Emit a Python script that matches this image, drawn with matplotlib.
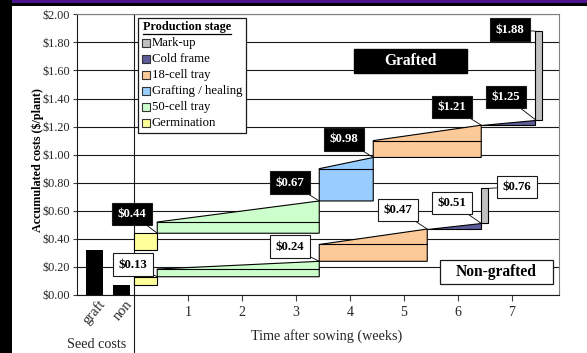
import matplotlib
matplotlib.use("Agg")
import matplotlib.pyplot as plt
from matplotlib.patches import Rectangle, Polygon
import numpy as np

plt.rcParams['font.family'] = ['Liberation Serif', 'DejaVu Serif']

# ---------------- data ----------------
seed_categories = ["graft", "non"]
seed_costs = [0.32, 0.07]

legend_stages = ["Mark-up", "Cold frame", "18-cell tray", "Grafting / healing",
                 "50-cell tray", "Germination"]
stage_colors = {"Mark-up": "#c0c0c0", "Cold frame": "#5c5c9a",
                "18-cell tray": "#fcc999", "Grafting / healing": "#99ccff",
                "50-cell tray": "#ccffcc", "Germination": "#ffff99"}

grafted_stages = ["Germination", "50-cell tray", "Grafting / healing",
                  "18-cell tray", "Cold frame", "Mark-up"]
grafted_start = [0.0, 0.43, 3.43, 4.43, 6.43, 7.43]
grafted_end = [0.43, 3.43, 4.43, 6.43, 7.43, 7.56]
grafted_fixed = [0.44, 0.52, 0.90, 1.10, 1.21, 1.88]
grafted_total = [0.44, 0.67, 0.98, 1.21, 1.25, 1.88]

non_stages = ["Germination", "50-cell tray", "18-cell tray", "Cold frame", "Mark-up"]
non_start = [0.0, 0.43, 3.43, 5.43, 6.43]
non_end = [0.43, 3.43, 5.43, 6.43, 6.56]
non_fixed = [0.13, 0.185, 0.36, 0.47, 0.76]
non_total = [0.13, 0.24, 0.47, 0.51, 0.76]

weeks = [1, 2, 3, 4, 5, 6, 7]
y_ticks = [0.0, 0.2, 0.4, 0.6, 0.8, 1.0, 1.2, 1.4, 1.6, 1.8, 2.0]

# label box centres (layout)
grafted_label_xy = [(-0.04, 0.577), (2.89, 0.80), (3.89, 1.11), (5.89, 1.34),
                    (6.89, 1.41), (6.96, 1.89)]
non_label_xy = [(-0.02, 0.217), (2.89, 0.345), (4.89, 0.606), (5.89, 0.656),
                (7.09, 0.77)]
seed_x = [-0.731, -0.231]

W, H = 587, 353
fig = plt.figure(figsize=(W / 100, H / 100), dpi=100)
ax = fig.add_axes([77 / W, (H - 295) / H, (559 - 77) / W, (295 - 14.3) / H])
ax.set_xlim(-1.056, 7.870)
ax.set_ylim(0, 2.0)

ax.set_axisbelow(True)
ax.yaxis.grid(True, color='#1a1a1a', lw=0.8)
ax.xaxis.grid(False)

for s in ['left', 'bottom']:
    ax.spines[s].set_color('#1a1a1a')
    ax.spines[s].set_linewidth(0.8)
for s in ['right', 'top']:
    ax.spines[s].set_color('#808080')
    ax.spines[s].set_linewidth(0.8)

ax.set_yticks(y_ticks)
ax.set_yticklabels([f"${v:.2f}" for v in y_ticks])
ax.set_xticks(weeks)
ax.set_xticklabels([str(w) for w in weeks])
ax.tick_params(axis='y', length=3, pad=2, labelsize=8.8, color='#404040',
               labelcolor='#262626', width=0.8)
ax.tick_params(axis='x', length=4, pad=4, labelsize=10, color='#404040',
               labelcolor='#262626', width=0.8)

# seed cost bars
ax.bar(seed_x, seed_costs, width=0.315, color='black', zorder=3)
for x, c in zip(seed_x, seed_categories):
    ax.text(x + 0.15, -0.05, c, rotation=50, rotation_mode='anchor',
            ha='right', va='center', fontsize=10.5, color='#262626', clip_on=False)

# week 0 divider
ax.plot([0, 0], [2.0, -0.43], color='#1a1a1a', lw=0.8, clip_on=False, zorder=2)


def draw_series(stages, start, end, fixed, total, seed):
    base = [seed] + total[:-1]
    for st, s, e, b, f, t in zip(stages, start, end, base, fixed, total):
        poly = Polygon([(s, b), (e, b), (e, t), (s, f)], closed=True,
                       fc=stage_colors[st], ec='black', lw=0.8, zorder=3)
        ax.add_patch(poly)
        if b < f < t:
            ax.plot([s, e], [f, f], color='black', lw=0.8, zorder=4)


draw_series(grafted_stages, grafted_start, grafted_end, grafted_fixed,
            grafted_total, seed_costs[0])
draw_series(non_stages, non_start, non_end, non_fixed, non_total, seed_costs[1])


def label_series(stages, start, end, total, label_xy, dark):
    for st, s, e, t, (lx, ly) in zip(stages, start, end, total, label_xy):
        px = e
        if st == "Mark-up" and lx < s:
            px = s
        fc, tc = ('black', 'white') if dark else ('white', 'black')
        ax.annotate(f"${t:.2f}", xy=(px, t), xytext=(lx, ly),
                    ha='center', va='center', fontsize=9.2, fontweight='bold',
                    color=tc, zorder=6,
                    bbox=dict(boxstyle='square,pad=0.42', fc=fc, ec='#1a1a1a', lw=0.8),
                    arrowprops=dict(arrowstyle='-', color='black', lw=0.6,
                                    shrinkA=0, shrinkB=0))


label_series(grafted_stages, grafted_start, grafted_end, grafted_total,
             grafted_label_xy, True)
label_series(non_stages, non_start, non_end, non_total, non_label_xy, False)

# series title boxes
ax.add_patch(Rectangle((4.074, 1.582), 2.093, 0.171, fc='black', ec='black',
                       zorder=6))
ax.text(5.12, 1.667, "Grafted", ha='center', va='center', fontsize=11.2,
        fontweight='bold', color='white', zorder=7)
ax.add_patch(Rectangle((5.667, 0.078), 2.092, 0.171, fc='white', ec='#1a1a1a',
                       lw=0.9, zorder=6))
ax.text(6.71, 0.163, "Non-grafted", ha='center', va='center', fontsize=11.2,
        fontweight='bold', color='black', zorder=7)

# axis titles
ax.text(-0.694, -0.356, "Seed costs", ha='center', va='center', fontsize=10.2,
        color='#262626', clip_on=False)
ax.text(3.565, -0.292, "Time after sowing (weeks)", ha='center', va='center',
        fontsize=10.2, color='#262626', clip_on=False)
fig.text(38 / W, 1 - 160 / H, "Accumulated costs ($/plant)", rotation=90,
         ha='center', va='center', fontsize=8.7, fontweight='bold')

# overlay in pixel coordinates: legend & frame
ov = fig.add_axes([0, 0, 1, 1])
ov.set_xlim(0, W)
ov.set_ylim(H, 0)
ov.axis('off')
ov.add_patch(Rectangle((138, 18), 108, 115, fc='white', ec='#1a1a1a', lw=0.9))
ov.text(143, 27, "Production stage", ha='left', va='center', fontsize=8.8,
        fontweight='bold')
ov.plot([143, 231], [33.5, 33.5], color='black', lw=0.9)
for i, st in enumerate(legend_stages):
    cy = 43 + i * 16
    ov.add_patch(Rectangle((142, cy - 4), 8, 8, fc=stage_colors[st],
                           ec='#333333', lw=0.8))
    ov.text(152, cy, st, ha='left', va='center', fontsize=9.2)

ov.add_patch(Rectangle((0, 0), W, 3, fc='#4b148c', ec='none'))
ov.add_patch(Rectangle((0, 3), W, 2.5, fc='black', ec='none'))
ov.add_patch(Rectangle((0, 0), 12, H, fc='black', ec='none'))

fig.savefig("out.png", dpi=100)
